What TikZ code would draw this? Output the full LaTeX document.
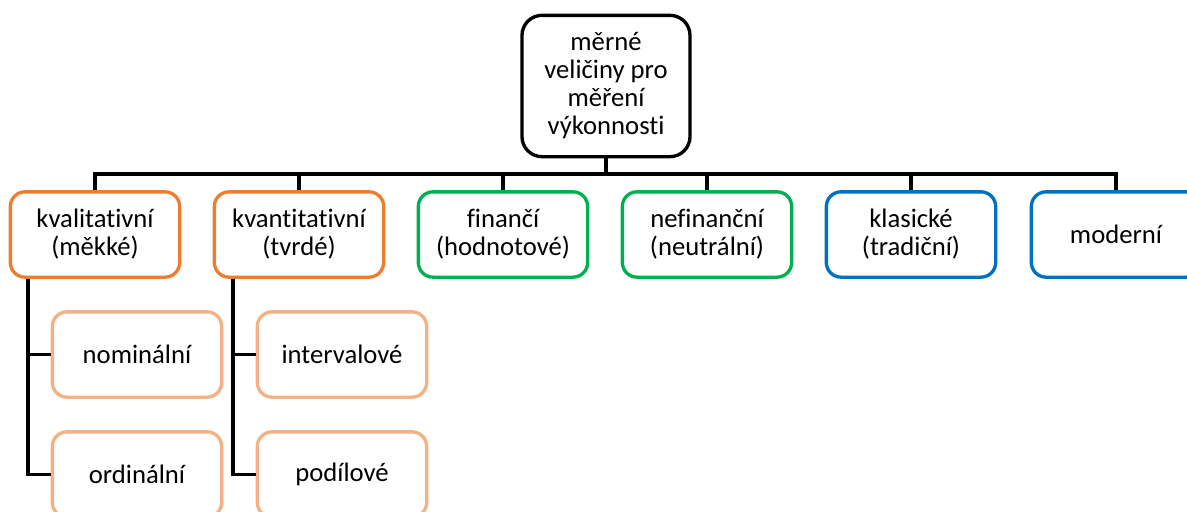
\documentclass[tikz,border=0pt]{standalone}
\usepackage{fontspec}
\setmainfont{Carlito}[Ligatures=NoCommon]
\definecolor{orangedark}{HTML}{ED7D31}
\definecolor{orangelight}{HTML}{F4B183}
\definecolor{greenbox}{HTML}{00B050}
\definecolor{bluebox}{HTML}{0070C0}
\begin{document}
\begin{tikzpicture}[x=0.75pt,y=-0.75pt,
  box/.style={draw, line width=2.5pt, rounded corners=11pt, fill=white,
    minimum width=127pt, minimum height=64pt, align=center, inner sep=2pt,
    font=\fontsize{20}{21}\selectfont},
  rootbox/.style={box, draw=black, minimum width=126pt, minimum height=106pt, rounded corners=15pt},
  catA/.style={box, draw=orangedark},
  catB/.style={box, draw=greenbox},
  catC/.style={box, draw=bluebox},
  leafbox/.style={box, draw=orangelight},
  link/.style={draw=black, line width=2.6pt}]
\clip (0,0) rectangle (1187,511);
\fill[white] (0,0) rectangle (1187,511);

% root
\node[rootbox] (root) at (606,86) {měrné\\veličiny pro\\měření\\výkonnosti};

% first level
\node[catA] (kval) at (95,234.5)  {kvalitativní\\(měkké)};
\node[catA] (kvan) at (299,234.5) {kvantitativní\\(tvrdé)};
\node[catB] (fin)  at (503,234.5) {finančí\\(hodnotové)};
\node[catB] (nefin) at (707,234.5) {nefinanční\\(neutrální)};
\node[catC] (klas) at (911,234.5) {klasické\\(tradiční)};
\node[catC] (mod)  at (1116,234.5) {moderní};

% second level
\node[leafbox] (nom) at (137,354.5) {nominální};
\node[leafbox] (ord) at (137,474.5) {ordinální};
\node[leafbox] (int) at (342,354.5) {intervalové};
\node[leafbox] (pod) at (342,474.5) {podílové};

% tree connectors: root to the first level through a common bar
\coordinate (bar) at (606,174);
\draw[link] (root.south) -- (bar);
\foreach \n in {kval,kvan,fin,nefin,klas,mod}
  \draw[link] (bar) -| (\n.north);

% side rails from the first level down to the second level
\coordinate (railA) at (28,0);
\coordinate (railB) at (233,0);
\draw[link] (railA |- kval.south) |- (nom.west);
\draw[link] (railA |- kval.south) |- (ord.west);
\draw[link] (railB |- kvan.south) |- (int.west);
\draw[link] (railB |- kvan.south) |- (pod.west);
\end{tikzpicture}
\end{document}
